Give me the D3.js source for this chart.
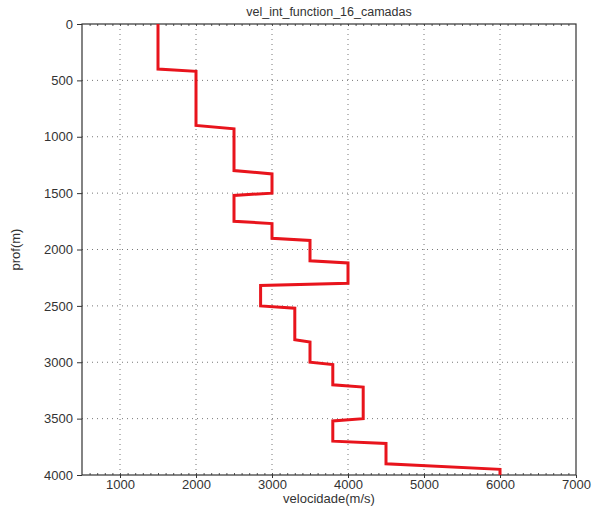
<!DOCTYPE html>
<html><head><meta charset="utf-8">
<script src="https://cdn.jsdelivr.net/npm/d3@7"></script>
<style>body{margin:0;background:#fff}svg{display:block}text{font-family:"Liberation Sans",Arial,sans-serif;fill:#333}</style>
</head><body><svg id="c" width="603" height="508"></svg>
<script>
// layer velocities (m/s)
const velocities = [1500, 2000, 2500, 3000, 2500, 3000, 3500, 4000, 2850, 3300, 3500, 3800, 4200, 3800, 4500, 6000];
// layer top depths (m)
const tops = [0, 420, 930, 1330, 1520, 1770, 1920, 2120, 2320, 2520, 2820, 3020, 3220, 3520, 3720, 3950];
// layer bottom depths (m)
const bottoms = [400, 900, 1300, 1500, 1750, 1900, 2100, 2300, 2500, 2800, 3000, 3200, 3500, 3700, 3900, 4000];
const xTicks = [1000, 2000, 3000, 4000, 5000, 6000, 7000];
const yTicks = [0, 500, 1000, 1500, 2000, 2500, 3000, 3500, 4000];
const title = "vel_int_function_16_camadas";
const xLabel = "velocidade(m/s)";
const yLabel = "prof(m)";

const svg = d3.select("#c");
const L = 82, R = 576, T = 24, B = 475;
const x = d3.scaleLinear().domain([500, 7000]).range([L, R]);
const y = d3.scaleLinear().domain([0, 4000]).range([T, B]);

// grid
const g = svg.append("g");
g.selectAll(".vg").data(xTicks.filter(d => d < 7000)).enter().append("line")
  .attr("x1", d => x(d)).attr("x2", d => x(d)).attr("y1", T).attr("y2", B)
  .attr("stroke", "#777").attr("stroke-width", 1).attr("stroke-dasharray", "1,4");
g.selectAll(".hg").data(yTicks.filter(d => d > 0 && d < 4000)).enter().append("line")
  .attr("y1", d => y(d)).attr("y2", d => y(d)).attr("x1", L).attr("x2", R)
  .attr("stroke", "#777").attr("stroke-width", 1).attr("stroke-dasharray", "1,4");

// minor ticks top & bottom
const minor = d3.range(600, 7000, 100);
svg.append("g").attr("transform", `translate(0,${B})`)
  .call(d3.axisTop(x).tickValues(minor).tickSize(2).tickFormat(""))
  .call(a => a.select(".domain").remove())
  .selectAll("line").attr("stroke", "#555");
svg.append("g").attr("transform", `translate(0,${T})`)
  .call(d3.axisBottom(x).tickValues(minor).tickSize(2).tickFormat(""))
  .call(a => a.select(".domain").remove())
  .selectAll("line").attr("stroke", "#555");

// frame
svg.append("rect").attr("x", L).attr("y", T).attr("width", R - L).attr("height", B - T)
  .attr("fill", "none").attr("stroke", "#333").attr("stroke-width", 1.2);

// axes
const xa = svg.append("g").attr("transform", `translate(0,${B})`)
  .call(d3.axisBottom(x).tickValues(xTicks).tickSize(3).tickPadding(2).tickFormat(d3.format("d")));
xa.select(".domain").remove();
xa.selectAll("text").style("font-size", "13px").attr("fill", "#333");
xa.selectAll("line").attr("stroke", "#333");

const ya = svg.append("g").attr("transform", `translate(${L},0)`)
  .call(d3.axisLeft(y).tickValues(yTicks).tickSize(5).tickPadding(4).tickFormat(d3.format("d")));
ya.select(".domain").remove();
ya.selectAll("text").style("font-size", "13px").attr("fill", "#333");
ya.selectAll("line").attr("stroke", "#333");

// line data
const pts = [];
velocities.forEach((v, i) => { pts.push([v, tops[i]]); pts.push([v, bottoms[i]]); });
svg.append("path").datum(pts)
  .attr("d", d3.line().x(d => x(d[0])).y(d => y(d[1])))
  .attr("fill", "none").attr("stroke", "#e8141c").attr("stroke-width", 3).attr("stroke-linejoin", "miter");

// labels
svg.append("text").attr("x", (L + R) / 2).attr("y", 16).attr("text-anchor", "middle")
  .style("font-size", "12.5px").text(title);
svg.append("text").attr("x", (L + R) / 2).attr("y", 503).attr("text-anchor", "middle")
  .style("font-size", "13px").text(xLabel);
svg.append("text").attr("transform", `translate(20,${(T + B) / 2}) rotate(-90)`).attr("text-anchor", "middle")
  .style("font-size", "13px").text(yLabel);
</script></body></html>
